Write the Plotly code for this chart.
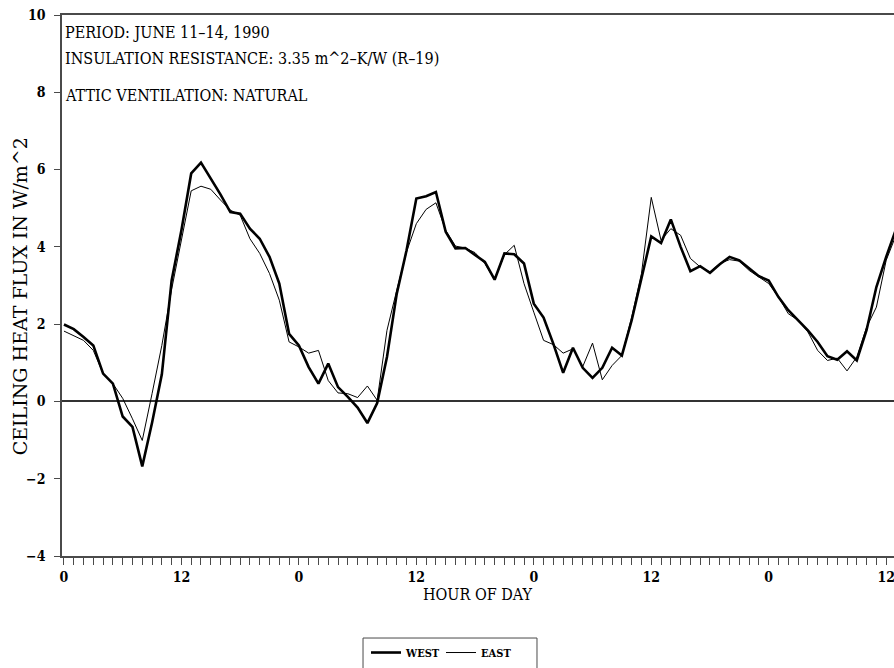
import plotly.graph_objects as go

# Hourly ceiling heat flux, June 11-14, 1990 (W/m^2)
hours = list(range(0, 86))

west_flux = [
    1.99, 1.87, 1.67, 1.45, 0.72, 0.46, -0.39, -0.66, -1.68, -0.55,
    0.70, 3.13, 4.43, 5.90, 6.18, 5.77, 5.35, 4.90, 4.86, 4.47,
    4.21, 3.74, 3.05, 1.75, 1.45, 0.89, 0.46, 0.98, 0.37, 0.12,
    -0.16, -0.56, -0.04, 1.15, 2.79, 3.91, 5.25, 5.31, 5.42, 4.39,
    3.96, 3.97, 3.78, 3.61, 3.15, 3.83, 3.81, 3.57, 2.53, 2.17,
    1.49, 0.74, 1.39, 0.87, 0.61, 0.87, 1.39, 1.19, 2.10, 3.22,
    4.27, 4.10, 4.71, 4.00, 3.37, 3.50, 3.33, 3.55, 3.74, 3.65,
    3.44, 3.24, 3.13, 2.70, 2.36, 2.10, 1.84, 1.54, 1.17, 1.08,
    1.30, 1.06, 1.85, 2.96, 3.74, 4.45,
]

east_flux = [
    1.82, 1.71, 1.58, 1.32, 0.72, 0.46, 0.08, -0.45, -1.01, 0.20,
    1.45, 2.90, 4.17, 5.45, 5.57, 5.49, 5.21, 4.95, 4.82, 4.21,
    3.83, 3.31, 2.62, 1.54, 1.41, 1.25, 1.32, 0.54, 0.22, 0.20,
    0.10, 0.40, 0.03, 1.84, 2.88, 3.87, 4.60, 4.97, 5.14, 4.43,
    4.02, 3.97, 3.85, 3.57, 3.15, 3.80, 4.04, 3.05, 2.31, 1.58,
    1.47, 1.25, 1.36, 0.90, 1.51, 0.56, 0.93, 1.19, 2.18, 3.31,
    5.28, 4.17, 4.47, 4.30, 3.70, 3.48, 3.35, 3.57, 3.67, 3.63,
    3.39, 3.22, 3.05, 2.70, 2.27, 2.10, 1.80, 1.32, 1.06, 1.12,
    0.79, 1.15, 1.92, 2.44, 3.65, 4.30,
]

# Hour ticks: one every hour, labelled at each half-day as hour of day
tick_hours = list(range(0, 85))
tick_labels = [str(h % 24) if h % 12 == 0 else "" for h in tick_hours]
y_ticks = [-4, -2, 0, 2, 4, 6, 8, 10]

notes = [
    "PERIOD: JUNE 11–14, 1990",
    "INSULATION RESISTANCE: 3.35 m^2–K/W (R–19)",
    "ATTIC VENTILATION: NATURAL",
]

FONT = "DejaVu Serif Condensed, DejaVu Serif, serif"
WIDE_FONT = "DejaVu Serif, serif"
AXIS_GRAY = "#4a4a4a"

fig = go.Figure()
fig.add_trace(go.Scatter(
    x=hours, y=west_flux, name="WEST", mode="lines",
    line=dict(color="black", width=2.6),
))
fig.add_trace(go.Scatter(
    x=hours, y=east_flux, name="EAST", mode="lines",
    line=dict(color="black", width=1),
))

fig.update_xaxes(
    range=[-0.2, 84.8],
    tickmode="array", tickvals=tick_hours, ticktext=tick_labels,
    ticks="outside", ticklen=7, tickwidth=1, tickcolor=AXIS_GRAY,
    showline=True, linecolor=AXIS_GRAY, linewidth=1.5, mirror=True,
    showgrid=False, zeroline=False,
    ticklabeloverflow="allow",
    tickfont=dict(family=FONT, size=14, color="black", weight="bold"),
)
fig.update_yaxes(
    range=[-4, 10],
    tickmode="array", tickvals=y_ticks,
    ticks="outside", ticklen=6, tickwidth=1, tickcolor=AXIS_GRAY,
    showline=True, linecolor=AXIS_GRAY, linewidth=1.5,
    showgrid=False,
    zeroline=True, zerolinecolor="#333333", zerolinewidth=1.5,
    tickfont=dict(family=FONT, size=14, color="black", weight="bold"),
    ticklabelstandoff=6,
)

ann = []
for txt, yp in zip(notes, [0.967, 0.919, 0.852]):
    ann.append(dict(
        text=txt, xref="paper", yref="paper", x=0.001, y=yp,
        xanchor="left", yanchor="middle", showarrow=False,
        font=dict(family=FONT, size=16, color="black"),
    ))
ann.append(dict(
    text="CEILING HEAT FLUX IN W/m^2", xref="paper", yref="paper",
    x=-0.0505, y=0.48, xanchor="center", yanchor="middle",
    textangle=-90, showarrow=False,
    font=dict(family=WIDE_FONT, size=19, color="black"),
))
ann.append(dict(
    text="HOUR OF DAY", xref="paper", yref="paper",
    x=0.5, y=-0.072, xanchor="center", yanchor="middle",
    showarrow=False,
    font=dict(family=FONT, size=16, color="black"),
))

# Legend frame, open at the bottom edge of the page
legend_frame = dict(
    type="rect", xref="paper", yref="paper",
    x0=0.3618, x1=0.5709, y0=-0.1516, y1=-0.26,
    line=dict(color=AXIS_GRAY, width=1), fillcolor="rgba(0,0,0,0)",
    layer="above",
)

fig.update_layout(
    width=894, height=668,
    margin=dict(l=62, r=0, t=15, b=112, autoexpand=False),
    paper_bgcolor="white", plot_bgcolor="white",
    annotations=ann,
    shapes=[legend_frame],
    showlegend=True,
    legend=dict(
        orientation="h", x=0.3654, y=-0.1516,
        xanchor="left", yanchor="top",
        borderwidth=0, bgcolor="rgba(0,0,0,0)",
        font=dict(family=FONT, size=11, color="black", weight="bold"),
        itemwidth=30, entrywidth=30, entrywidthmode="pixels",
    ),
)

fig.write_html("out.html")
